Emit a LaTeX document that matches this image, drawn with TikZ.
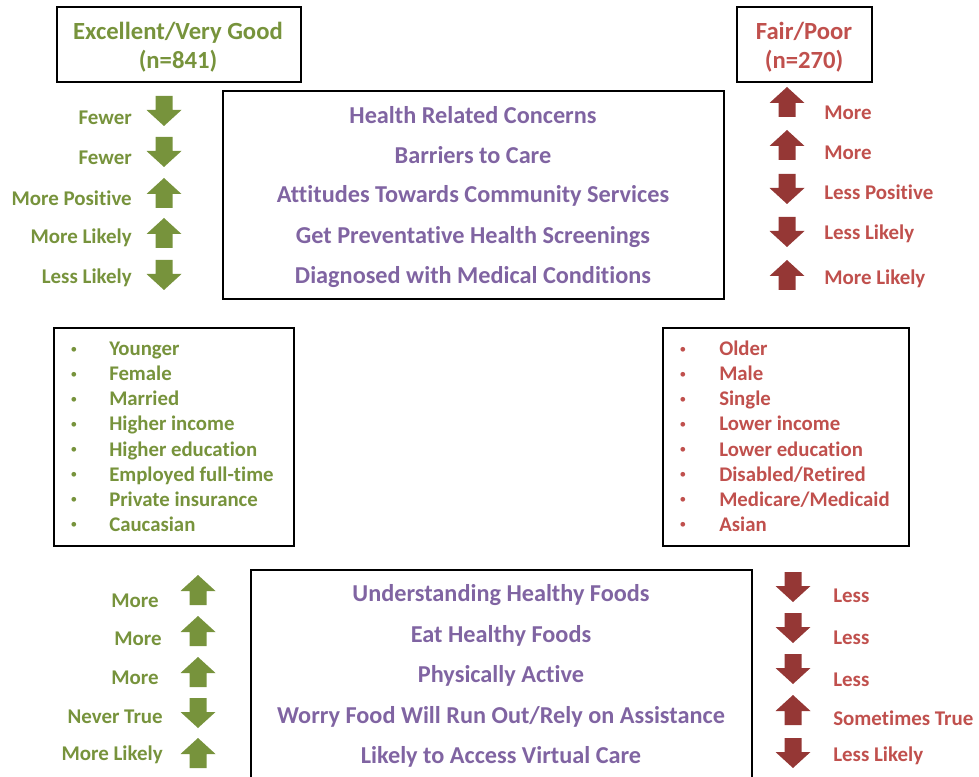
\documentclass[tikz,border=0pt]{standalone}
\usepackage{fontspec}
\setmainfont{Carlito}[Ligatures={NoCommon}]
\definecolor{cgreen}{HTML}{77933C}
\definecolor{cred}{HTML}{C0504D}
\definecolor{cdred}{HTML}{953735}
\definecolor{cpurple}{HTML}{8064A2}
\begin{document}
\begin{tikzpicture}[x=0.75pt,y=-0.75pt,
  frame/.style={draw=black,line width=1.1pt},
  title/.style={font=\fontsize{18.5}{22}\selectfont\bfseries,align=center,inner sep=0},
  topic/.style={text=cpurple,font=\fontsize{18.2}{21}\selectfont\bfseries,inner sep=0},
  glab/.style={text=cgreen,font=\fontsize{15.7}{18}\selectfont\bfseries,inner sep=0,anchor=east},
  rlab/.style={text=cred,font=\fontsize{15.7}{18}\selectfont\bfseries,inner sep=0,anchor=west},
  litem/.style={font=\fontsize{15.6}{18}\selectfont\bfseries,inner sep=0,anchor=base west},
  upar/.pic={\fill (0,-15) -- (17.5,1) -- (8.5,1) -- (8.5,15) -- (-8.5,15) -- (-8.5,1) -- (-17.5,1) -- cycle;},
  dnar/.pic={\fill (0,15) -- (17.5,-1) -- (8.5,-1) -- (8.5,-15) -- (-8.5,-15) -- (-8.5,-1) -- (-17.5,-1) -- cycle;}
]
\useasboundingbox (0,0) rectangle (979,777);
% boxes
\draw[frame] (57,7) rectangle (301,82);
\draw[frame] (737,7) rectangle (872,82);
\draw[frame] (223,91) rectangle (724,299);
\draw[frame] (54,328) rectangle (294,546);
\draw[frame] (663,328) rectangle (909,546);
\draw[frame] (251,570) rectangle (752,782);
% titles
\node[title,text=cgreen] (tl) at (178,47) {Excellent/Very Good\\(n=841)};
\node[title,text=cred] (tr) at (804,47) {Fair/Poor\\(n=270)};
% top topics
\node[topic] (t1) at (473,115) {Health Related Concerns};
\node[topic] (t2) at (473,155) {Barriers to Care};
\node[topic] (t3) at (473,196) {Attitudes Towards Community Services};
\node[topic] (t4) at (473,237) {Get Preventative Health Screenings};
\node[topic] (t5) at (473,277) {Diagnosed with Medical Conditions};
% top left labels + arrows
\node[glab] (gl1) at (132,118) {Fewer};
\node[glab] (gl2) at (132,158) {Fewer};
\node[glab] (gl3) at (132,198) {More Positive};
\node[glab] (gl4) at (132,238) {More Likely};
\node[glab] (gl5) at (132,278) {Less Likely};
\begin{scope}[cgreen]
\pic (ga1) at (164,111) {dnar};
\pic (ga2) at (164,152) {dnar};
\pic (ga3) at (164,193) {upar};
\pic (ga4) at (164,233) {upar};
\pic (ga5) at (164,275) {dnar};
\end{scope}
% top right labels + arrows
\node[rlab] (rl1) at (824,113) {More};
\node[rlab] (rl2) at (824,153) {More};
\node[rlab] (rl3) at (824,192) {Less Positive};
\node[rlab] (rl4) at (824,234) {Less Likely};
\node[rlab] (rl5) at (824,279) {More Likely};
\begin{scope}[cdred]
\pic (ra1) at (787,102) {upar};
\pic (ra2) at (787,145) {upar};
\pic (ra3) at (787,189) {dnar};
\pic (ra4) at (787,232) {dnar};
\pic (ra5) at (787,275) {upar};
\end{scope}
% lists
\foreach \t [count=\i] in {Younger,Female,Married,Higher income,Higher education,Employed full-time,Private insurance,Caucasian}{
  \node[litem,text=cgreen] (li\i) at (109,{331+25*\i}) {\t};
  \node[text=cgreen,inner sep=0] (lb\i) at (74,{325+25*\i}) {\fontsize{10}{12}\selectfont•};
}
\foreach \t [count=\i] in {Older,Male,Single,Lower income,Lower education,Disabled/Retired,Medicare/Medicaid,Asian}{
  \node[litem,text=cred] (ri\i) at (719,{331+25*\i}) {\t};
  \node[text=cred,inner sep=0] (rb\i) at (683,{325+25*\i}) {\fontsize{10}{12}\selectfont•};
}
% bottom topics
\node[topic] (b1) at (501,595) {Understanding Healthy Foods};
\node[topic] (b2) at (501,636) {Eat Healthy Foods};
\node[topic] (b3) at (501,676) {Physically Active};
\node[topic] (b4) at (501,717) {Worry Food Will Run Out/Rely on Assistance};
\node[topic] (b5) at (501,757) {Likely to Access Virtual Care};
% bottom left
\node[glab] (bg1) at (159,601) {More};
\node[glab] (bg2) at (162,639) {More};
\node[glab] (bg3) at (159,678) {More};
\node[glab] (bg4) at (163,717) {Never True};
\node[glab] (bg5) at (163,755) {More Likely};
\begin{scope}[cgreen]
\pic (bga1) at (198,590) {upar};
\pic (bga2) at (198,631) {upar};
\pic (bga3) at (198,672) {upar};
\pic (bga4) at (198,713) {dnar};
\pic (bga5) at (198,753) {upar};
\end{scope}
% bottom right
\node[rlab] (br1) at (833,596) {Less};
\node[rlab] (br2) at (833,638) {Less};
\node[rlab] (br3) at (833,680) {Less};
\node[rlab] (br4) at (833,718) {Sometimes True};
\node[rlab] (br5) at (833,756) {Less Likely};
\begin{scope}[cdred]
\pic (bra1) at (793,587) {dnar};
\pic (bra2) at (793,628) {dnar};
\pic (bra3) at (793,669) {dnar};
\pic (bra4) at (793,710) {upar};
\pic (bra5) at (793,753) {dnar};
\end{scope}
\end{tikzpicture}
\end{document}
